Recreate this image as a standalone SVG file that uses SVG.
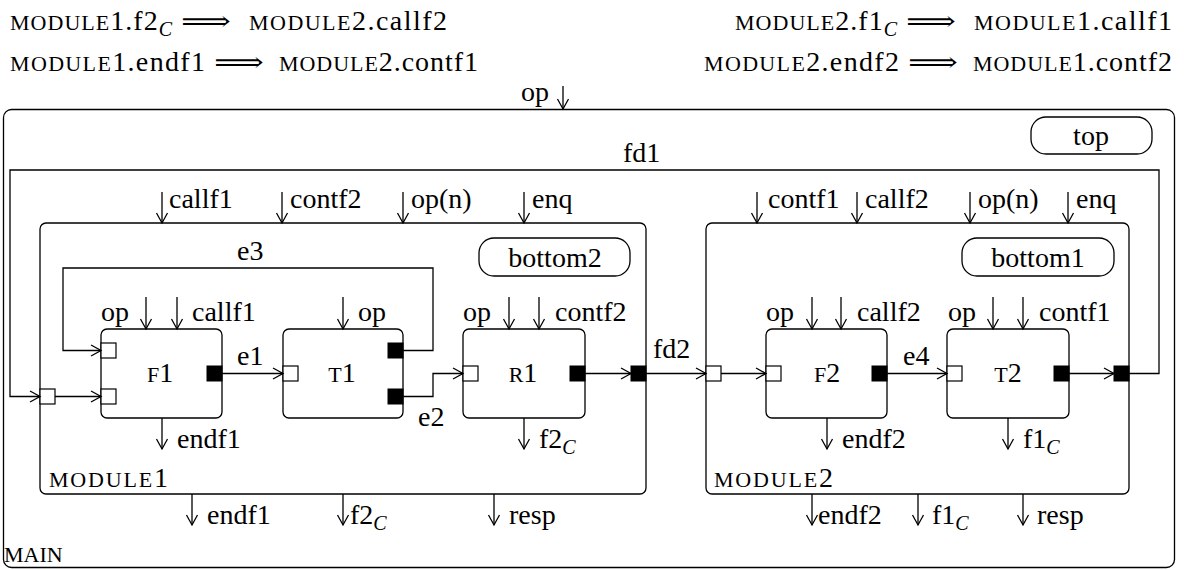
<svg xmlns="http://www.w3.org/2000/svg" width="1184" height="570" viewBox="0 0 1184 570">
<style>
text{font-family:"Liberation Serif","Times New Roman",Tinos,"Noto Serif","DejaVu Serif",serif}
.t{font-size:28px;fill:#000}
.sc{font-variant:small-caps;font-size:31px}
.s{font-size:20px;font-style:italic}
.ln{fill:none;stroke:#000;stroke-width:1.3}
.bx{fill:#fff;stroke:#000;stroke-width:1.3}
.wp{fill:#fff;stroke:#000;stroke-width:1.2}
.bp{fill:#000;stroke:#000;stroke-width:1}
.ar{marker-end:url(#a)}
.m{text-anchor:middle}
text.arr{font-family:"DejaVu Serif","DejaVu Sans",serif;font-size:26px}
</style>
<defs>
<marker id="a" markerWidth="14" markerHeight="14" refX="11" refY="7" orient="auto" markerUnits="userSpaceOnUse">
<path d="M1,1.5 L11,7 L1,12.5" fill="none" stroke="#000" stroke-width="1.3"/>
</marker>
</defs>
<rect width="1184" height="570" fill="#fff"/>

<g id="header">
<text class="t" x="10" y="30" textLength="162"><tspan class="sc">module</tspan>1.f2<tspan class="s" dy="6">C</tspan></text>
<text class="t arr" x="181" y="30" textLength="50" lengthAdjust="spacingAndGlyphs">⟹</text>
<text class="t" x="249" y="30" textLength="198"><tspan class="sc">module</tspan>2.callf2</text>
<text class="t" x="10" y="71" textLength="195"><tspan class="sc">module</tspan>1.endf1</text>
<text class="t arr" x="214" y="71" textLength="50" lengthAdjust="spacingAndGlyphs">⟹</text>
<text class="t" x="279" y="71" textLength="199"><tspan class="sc">module</tspan>2.contf1</text>
<text class="t" x="735" y="30" textLength="162"><tspan class="sc">module</tspan>2.f1<tspan class="s" dy="6">C</tspan></text>
<text class="t arr" x="906" y="30" textLength="50" lengthAdjust="spacingAndGlyphs">⟹</text>
<text class="t" x="974" y="30" textLength="198"><tspan class="sc">module</tspan>1.callf1</text>
<text class="t" x="704" y="71" textLength="195"><tspan class="sc">module</tspan>2.endf2</text>
<text class="t arr" x="908" y="71" textLength="50" lengthAdjust="spacingAndGlyphs">⟹</text>
<text class="t" x="973" y="71" textLength="199"><tspan class="sc">module</tspan>1.contf2</text>
</g>

<g id="main">
<rect class="ln" x="3.5" y="109.5" width="1171" height="458" rx="8"/>
<text class="t" x="4" y="562"><tspan class="sc">main</tspan></text>
<text class="t" x="521" y="101">op</text>
<line class="ln ar" x1="563" y1="86" x2="563" y2="109"/>
</g>

<g id="top">
<rect class="bx" x="1031" y="117" width="121" height="37" rx="15"/>
<text class="t m" x="1091" y="145">top</text>
</g>

<g id="module1">
<rect class="bx" x="40" y="223" width="606" height="271" rx="6"/>
<text class="t" x="49" y="487" textLength="119"><tspan class="sc">module</tspan>1</text>
<rect class="wp" x="40" y="389" width="15" height="15"/>
<rect class="bp" x="631" y="366" width="15" height="15"/>
<line class="ln ar" x1="162" y1="192" x2="162" y2="223"/><text class="t" x="169" y="208">callf1</text>
<line class="ln ar" x1="282" y1="192" x2="282" y2="223"/><text class="t" x="290" y="208">contf2</text>
<line class="ln ar" x1="403" y1="192" x2="403" y2="223"/><text class="t" x="411" y="208">op(n)</text>
<line class="ln ar" x1="524" y1="192" x2="524" y2="223"/><text class="t" x="532" y="208">enq</text>
<line class="ln ar" x1="192" y1="494" x2="192" y2="525"/><text class="t" x="207" y="524">endf1</text>
<line class="ln ar" x1="343" y1="494" x2="343" y2="525"/><text class="t" x="350" y="524">f2<tspan class="s" dy="6">C</tspan></text>
<line class="ln ar" x1="494" y1="494" x2="494" y2="525"/><text class="t" x="509" y="524">resp</text>
</g>

<g id="bottom2">
<rect class="bx" x="479" y="238" width="151" height="38" rx="15"/>
<text class="t m" x="555" y="267">bottom2</text>
</g>

<g id="module2">
<rect class="bx" x="706" y="223" width="423" height="271" rx="6"/>
<text class="t" x="714" y="487" textLength="119"><tspan class="sc">module</tspan>2</text>
<rect class="wp" x="706" y="366" width="15" height="15"/>
<rect class="bp" x="1114" y="366" width="15" height="15"/>
<line class="ln ar" x1="757" y1="192" x2="757" y2="223"/><text class="t" x="768" y="208">contf1</text>
<line class="ln ar" x1="857" y1="192" x2="857" y2="223"/><text class="t" x="865" y="208">callf2</text>
<line class="ln ar" x1="970" y1="192" x2="970" y2="223"/><text class="t" x="978" y="208">op(n)</text>
<line class="ln ar" x1="1068" y1="192" x2="1068" y2="223"/><text class="t" x="1076" y="208">enq</text>
<line class="ln ar" x1="812" y1="494" x2="812" y2="525"/><text class="t" x="818" y="524">endf2</text>
<line class="ln ar" x1="918" y1="494" x2="918" y2="525"/><text class="t" x="932" y="524">f1<tspan class="s" dy="6">C</tspan></text>
<line class="ln ar" x1="1023" y1="494" x2="1023" y2="525"/><text class="t" x="1037" y="524">resp</text>
</g>

<g id="bottom1">
<rect class="bx" x="962" y="238" width="152" height="38" rx="15"/>
<text class="t m" x="1038" y="267">bottom1</text>
</g>

<g id="F1">
<rect class="bx" x="101" y="329" width="121" height="89" rx="6"/>
<text class="t m" x="160" y="382"><tspan class="sc">f</tspan>1</text>
<rect class="wp" x="101" y="343" width="15" height="15"/>
<rect class="wp" x="101" y="389" width="15" height="15"/>
<rect class="bp" x="207" y="366" width="15" height="15"/>
<text class="t" x="101" y="321">op</text>
<line class="ln ar" x1="146" y1="297" x2="146" y2="329"/>
<line class="ln ar" x1="177" y1="297" x2="177" y2="329"/>
<text class="t" x="192" y="321">callf1</text>
<line class="ln ar" x1="162" y1="418" x2="162" y2="449"/>
<text class="t" x="177" y="448">endf1</text>
</g>

<g id="T1">
<rect class="bx" x="283" y="329" width="120" height="89" rx="6"/>
<text class="t m" x="342" y="382"><tspan class="sc">t</tspan>1</text>
<rect class="wp" x="283" y="366" width="15" height="15"/>
<rect class="bp" x="388" y="343" width="15" height="15"/>
<rect class="bp" x="388" y="389" width="15" height="15"/>
<line class="ln ar" x1="343" y1="297" x2="343" y2="329"/>
<text class="t" x="358" y="321">op</text>
</g>

<g id="R1">
<rect class="bx" x="463" y="329" width="122" height="89" rx="6"/>
<text class="t m" x="523" y="382"><tspan class="sc">r</tspan>1</text>
<rect class="wp" x="463" y="366" width="15" height="15"/>
<rect class="bp" x="570" y="366" width="15" height="15"/>
<text class="t" x="463" y="321">op</text>
<line class="ln ar" x1="509" y1="297" x2="509" y2="329"/>
<line class="ln ar" x1="539" y1="297" x2="539" y2="329"/>
<text class="t" x="555" y="321">contf2</text>
<line class="ln ar" x1="524" y1="418" x2="524" y2="449"/>
<text class="t" x="539" y="448">f2<tspan class="s" dy="6">C</tspan></text>
</g>

<g id="F2">
<rect class="bx" x="766" y="329" width="121" height="89" rx="6"/>
<text class="t m" x="827" y="382"><tspan class="sc">f</tspan>2</text>
<rect class="wp" x="766" y="366" width="15" height="15"/>
<rect class="bp" x="872" y="366" width="15" height="15"/>
<text class="t" x="766" y="321">op</text>
<line class="ln ar" x1="812" y1="297" x2="812" y2="329"/>
<line class="ln ar" x1="841" y1="297" x2="841" y2="329"/>
<text class="t" x="857" y="321">callf2</text>
<line class="ln ar" x1="827" y1="418" x2="827" y2="449"/>
<text class="t" x="842" y="448">endf2</text>
</g>

<g id="T2">
<rect class="bx" x="947" y="329" width="122" height="89" rx="6"/>
<text class="t m" x="1008" y="382"><tspan class="sc">t</tspan>2</text>
<rect class="wp" x="947" y="366" width="15" height="15"/>
<rect class="bp" x="1054" y="366" width="15" height="15"/>
<text class="t" x="948" y="321">op</text>
<line class="ln ar" x1="993" y1="297" x2="993" y2="329"/>
<line class="ln ar" x1="1023" y1="297" x2="1023" y2="329"/>
<text class="t" x="1039" y="321">contf1</text>
<line class="ln ar" x1="1008" y1="418" x2="1008" y2="449"/>
<text class="t" x="1023" y="448">f1<tspan class="s" dy="6">C</tspan></text>
</g>

<g id="connectors">
<polyline class="ln ar" points="1129,373.5 1159,373.5 1159,170 10,170 10,396.5 40,396.5"/>
<text class="t" x="623" y="162">fd1</text>
<line class="ln ar" x1="55" y1="396.5" x2="101" y2="396.5"/>
<polyline class="ln ar" points="403,350.5 433,350.5 433,268 63,268 63,350.5 101,350.5"/>
<text class="t" x="237" y="260">e3</text>
<line class="ln ar" x1="222" y1="373.5" x2="283" y2="373.5"/>
<text class="t" x="237" y="365">e1</text>
<polyline class="ln ar" points="403,396.5 433,396.5 433,373.5 463,373.5"/>
<text class="t" x="418" y="426">e2</text>
<line class="ln ar" x1="585" y1="373.5" x2="631" y2="373.5"/>
<line class="ln ar" x1="646" y1="373.5" x2="706" y2="373.5"/>
<text class="t" x="653" y="358">fd2</text>
<line class="ln ar" x1="721" y1="373.5" x2="766" y2="373.5"/>
<line class="ln ar" x1="887" y1="373.5" x2="947" y2="373.5"/>
<text class="t" x="903" y="365">e4</text>
<line class="ln ar" x1="1069" y1="373.5" x2="1114" y2="373.5"/>
</g>
</svg>
